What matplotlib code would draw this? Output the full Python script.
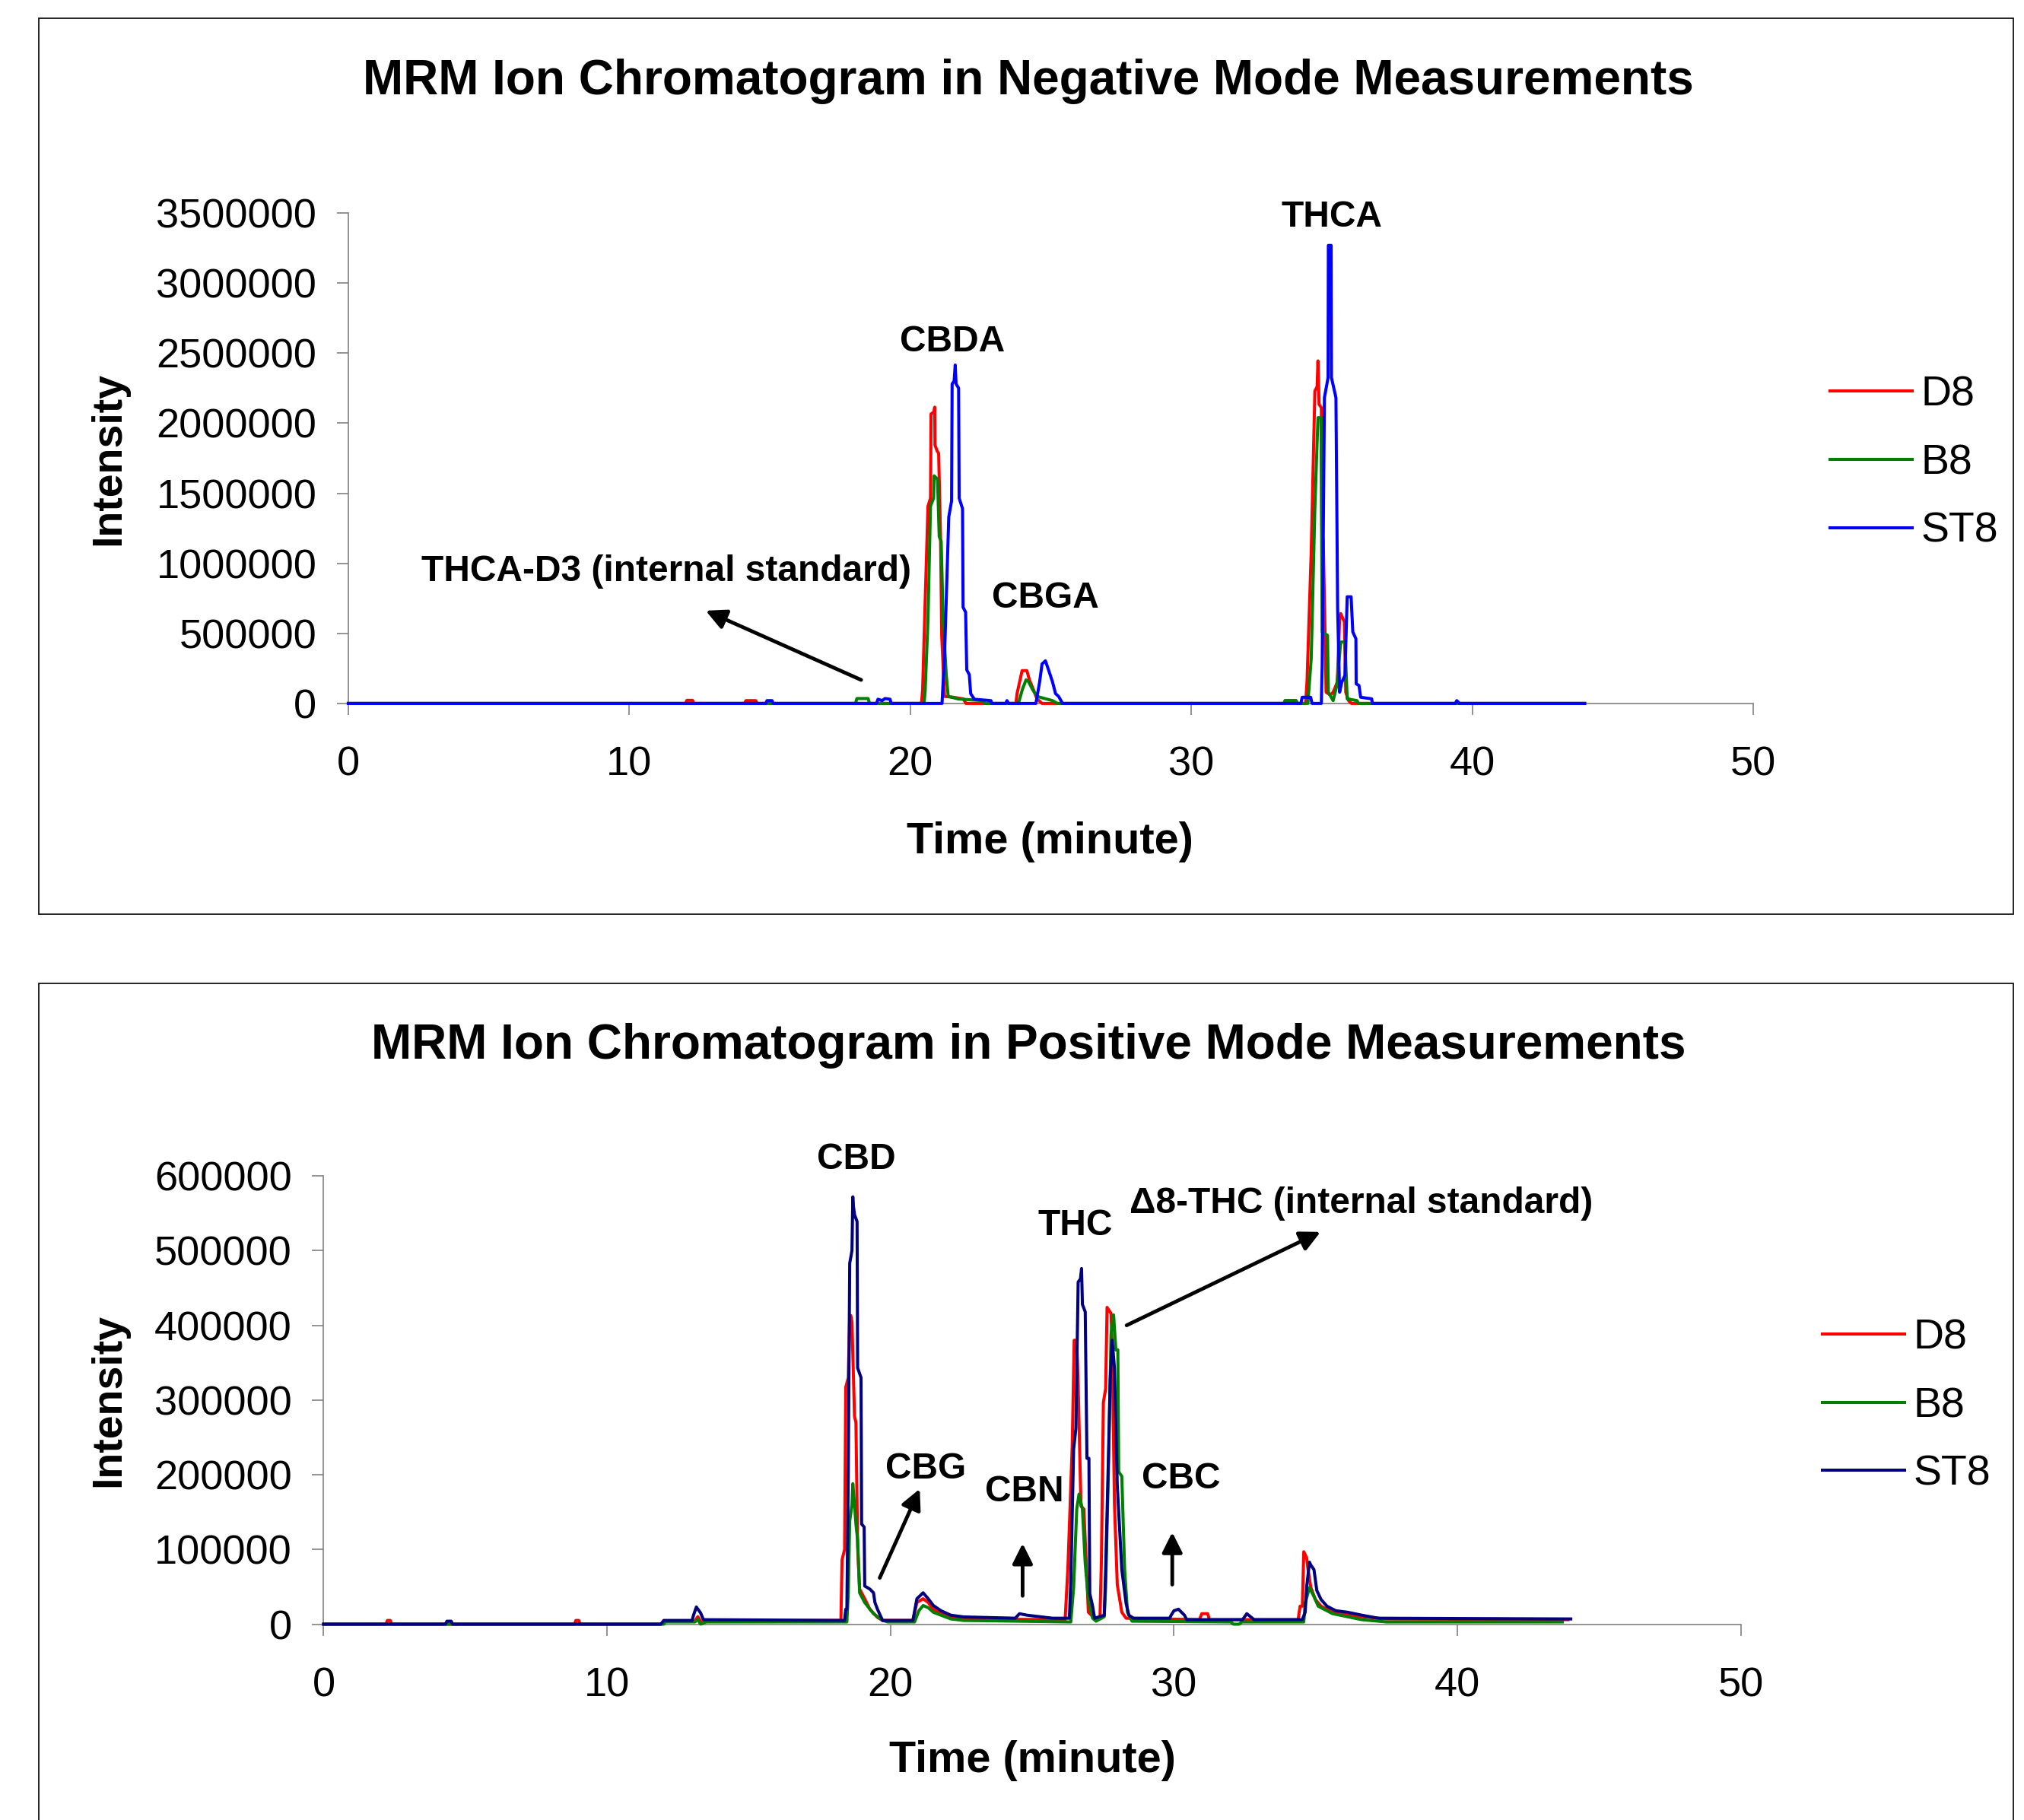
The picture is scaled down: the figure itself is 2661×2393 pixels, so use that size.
import matplotlib
matplotlib.use("Agg")
import matplotlib.pyplot as plt
from matplotlib.patches import Rectangle

plt.rcParams['font.family'] = ['Liberation Sans', 'DejaVu Sans']

# ---- negative mode traces, (time in minutes, intensity) ----
neg_d8 = [(0, 0), (12.00, 0), (12.05, 22e3), (12.25, 22e3), (12.30, 0),
          (14.10, 0), (14.15, 20e3), (14.50, 20e3), (14.55, 0),
          (20.40, 0), (20.44, 100e3), (20.49, 457e3), (20.63, 1407e3), (20.72, 1465e3),
          (20.74, 2066e3), (20.84, 2080e3), (20.87, 2114e3), (20.88, 1843e3), (20.96, 1800e3),
          (21.01, 1785e3), (21.08, 1156e3), (21.12, 478e3), (21.22, 50e3), (21.50, 45e3),
          (21.89, 32e3), (21.98, 0),
          (23.76, 0), (23.80, 70e3), (23.98, 234e3), (24.15, 234e3), (24.24, 168e3),
          (24.38, 100e3), (24.51, 32e3), (24.69, 0),
          (33.30, 0), (33.34, 20e3), (33.73, 20e3), (33.78, 0),
          (34.07, 0), (34.12, 152e3), (34.27, 1083e3), (34.40, 2230e3), (34.48, 2260e3),
          (34.51, 2444e3), (34.55, 2134e3), (34.63, 2110e3), (34.65, 1251e3), (34.70, 1155e3),
          (34.80, 80e3), (34.95, 60e3), (35.05, 80e3), (35.20, 152e3), (35.28, 600e3),
          (35.32, 641e3), (35.45, 582e3), (35.50, 80e3), (35.60, 20e3), (35.70, 0), (44.0, 0)]

neg_b8 = [(0, 0), (18.05, 0), (18.10, 35e3), (18.50, 35e3), (18.55, 0),
          (20.49, 0), (20.53, 89e3), (20.63, 593e3), (20.72, 1407e3), (20.83, 1465e3),
          (20.85, 1624e3), (20.97, 1600e3), (21.03, 1190e3), (21.10, 1156e3), (21.17, 593e3),
          (21.28, 206e3), (21.35, 50e3), (21.71, 32e3), (22.60, 20e3), (22.65, 0),
          (23.85, 0), (23.99, 100e3), (24.12, 168e3), (24.21, 155e3), (24.35, 100e3),
          (24.51, 50e3), (25.06, 20e3), (25.24, 0),
          (33.30, 0), (33.34, 20e3), (33.73, 20e3), (33.78, 0),
          (34.15, 0), (34.27, 319e3), (34.40, 1394e3), (34.51, 2039e3), (34.62, 2039e3),
          (34.66, 510e3), (34.85, 486e3), (34.88, 80e3), (35.05, 20e3), (35.18, 128e3),
          (35.32, 438e3), (35.47, 438e3), (35.55, 33e3), (35.90, 20e3), (35.95, 0), (44.0, 0)]

neg_st8 = [(0, 0), (14.86, 0), (14.90, 20e3), (15.08, 20e3), (15.12, 0),
           (18.80, 0), (18.85, 30e3), (19.00, 20e3), (19.10, 35e3), (19.28, 30e3), (19.32, 0),
           (21.13, 0), (21.22, 342e3), (21.37, 1330e3), (21.47, 1445e3), (21.49, 2280e3),
           (21.56, 2300e3), (21.60, 2415e3), (21.63, 2280e3), (21.72, 2250e3), (21.74, 1465e3),
           (21.86, 1390e3), (21.88, 686e3), (21.97, 651e3), (22.01, 239e3), (22.10, 206e3),
           (22.15, 70e3), (22.28, 30e3), (22.87, 20e3), (22.90, 0),
           (23.40, 0), (23.44, 20e3), (23.50, 0),
           (24.47, 0), (24.60, 148e3), (24.69, 282e3), (24.81, 304e3), (24.92, 240e3),
           (25.06, 155e3), (25.17, 70e3), (25.28, 50e3), (25.42, 0),
           (33.90, 0), (33.95, 44e3), (34.25, 44e3), (34.30, 0),
           (34.63, 0), (34.66, 271e3), (34.74, 2182e3), (34.87, 2325e3), (34.88, 3268e3),
           (34.98, 3268e3), (34.99, 2325e3), (35.15, 2182e3), (35.21, 677e3), (35.28, 80e3),
           (35.36, 152e3), (35.47, 200e3), (35.55, 761e3), (35.69, 761e3), (35.75, 510e3),
           (35.86, 462e3), (35.87, 140e3), (35.97, 128e3), (36.03, 44e3), (36.42, 33e3),
           (36.45, 0), (39.40, 0), (39.45, 20e3), (39.55, 0), (44.0, 0)]

# ---- positive mode traces ----
pos_d8 = [(0, 0), (2.20, 0), (2.25, 5e3), (2.35, 5e3), (2.40, 0),
          (8.85, 0), (8.90, 5e3), (9.00, 5e3), (9.05, 0),
          (11.90, 0), (12.00, 4e3), (13.10, 4e3), (13.20, 10e3), (13.30, 4e3),
          (18.25, 5e3), (18.29, 86e3), (18.38, 100e3), (18.42, 317e3), (18.51, 330e3),
          (18.56, 413e3), (18.60, 413e3), (18.64, 404e3), (18.73, 278e3), (18.78, 270e3),
          (18.84, 103e3), (18.91, 47e3), (19.09, 34e3), (19.27, 20e3), (19.54, 9e3),
          (19.72, 5e3), (20.79, 5e3), (20.93, 29e3), (21.15, 34e3), (21.33, 29e3),
          (21.51, 20e3), (21.78, 14e3), (22.13, 9.7e3), (22.58, 7e3),
          (26.16, 6e3), (26.26, 77e3), (26.41, 238e3), (26.48, 380e3), (26.57, 380e3),
          (26.62, 319e3), (26.72, 158e3), (26.82, 154e3), (26.93, 61e3), (26.98, 16e3),
          (27.20, 8e3), (27.39, 8e3), (27.44, 85e3), (27.51, 297e3), (27.59, 315e3),
          (27.64, 424e3), (27.78, 416e3), (27.82, 372e3), (27.90, 162e3), (28.00, 53e3),
          (28.16, 16e3), (28.31, 8e3), (30.90, 6e3), (30.98, 14e3), (31.19, 14e3),
          (31.25, 6e3), (34.38, 6e3), (34.45, 24e3), (34.53, 24e3), (34.58, 97e3),
          (34.68, 89e3), (34.73, 73e3), (34.83, 49e3), (34.99, 33e3), (35.19, 24e3),
          (35.60, 16e3), (36.12, 12e3), (36.63, 10e3), (37.50, 7e3), (43.90, 6e3)]

pos_b8 = [(0, 0), (12.00, 0), (12.05, 3e3), (13.10, 3e3), (13.20, 6e3), (13.30, 0),
          (13.50, 3e3), (18.46, 3e3), (18.51, 42e3), (18.56, 138e3), (18.64, 160e3),
          (18.67, 188e3), (18.73, 160e3), (18.78, 134e3), (18.84, 112e3), (18.91, 42e3),
          (19.09, 29e3), (19.40, 14e3), (19.72, 5e3), (19.90, 3e3), (20.85, 3e3),
          (21.00, 18e3), (21.15, 25e3), (21.33, 22e3), (21.51, 16e3), (21.78, 12e3),
          (22.13, 7e3), (22.58, 5e3), (26.36, 3e3), (26.46, 49e3), (26.57, 154e3),
          (26.65, 174e3), (26.77, 154e3), (26.87, 81e3), (26.98, 33e3), (27.13, 8e3),
          (27.25, 4e3), (27.54, 10e3), (27.59, 49e3), (27.70, 226e3), (27.78, 388e3),
          (27.87, 414e3), (27.95, 367e3), (28.02, 367e3), (28.05, 204e3), (28.16, 198e3),
          (28.26, 73e3), (28.36, 16e3), (28.52, 4e3), (32.00, 3e3), (32.10, 0),
          (32.30, 0), (32.40, 3e3), (34.58, 3e3), (34.63, 28e3), (34.78, 49e3),
          (34.94, 37e3), (35.09, 24e3), (35.60, 14e3), (36.12, 10e3), (36.63, 6e3),
          (37.50, 3e3), (43.70, 3e3)]

pos_st8 = [(0, 0), (4.30, 0), (4.35, 4e3), (4.50, 4e3), (4.55, 0),
           (11.90, 0), (12.00, 5e3), (13.00, 5e3), (13.05, 12e3), (13.15, 23e3),
           (13.30, 15e3), (13.40, 6e3), (18.38, 5e3), (18.42, 20e3), (18.46, 20e3),
           (18.51, 204e3), (18.56, 483e3), (18.64, 500e3), (18.67, 572e3), (18.69, 560e3),
           (18.73, 548e3), (18.82, 539e3), (18.84, 343e3), (18.96, 330e3), (18.98, 134e3),
           (19.07, 130e3), (19.09, 51e3), (19.27, 47e3), (19.40, 42e3), (19.45, 29e3),
           (19.54, 20e3), (19.72, 5e3), (20.79, 5e3), (20.93, 34e3), (21.15, 42e3),
           (21.33, 34e3), (21.51, 25e3), (21.78, 18e3), (22.13, 12e3), (22.58, 9.7e3),
           (24.40, 8e3), (24.55, 14e3), (24.82, 12e3), (25.71, 8e3), (26.31, 8e3),
           (26.36, 57e3), (26.46, 234e3), (26.54, 262e3), (26.62, 458e3), (26.70, 462e3),
           (26.74, 476e3), (26.77, 428e3), (26.87, 418e3), (26.93, 222e3), (27.00, 222e3),
           (27.03, 41e3), (27.13, 24e3), (27.20, 8e3), (27.54, 12e3), (27.59, 73e3),
           (27.70, 242e3), (27.75, 327e3), (27.82, 380e3), (27.90, 343e3), (28.00, 186e3),
           (28.16, 73e3), (28.31, 28e3), (28.41, 12e3), (28.57, 8e3), (29.85, 8e3),
           (29.90, 12e3), (30.00, 18e3), (30.16, 20e3), (30.37, 12e3), (30.45, 6e3),
           (32.42, 6e3), (32.57, 14e3), (32.83, 6e3), (34.53, 6e3), (34.63, 16e3),
           (34.68, 49e3), (34.78, 83e3), (34.83, 79e3), (34.94, 73e3), (35.04, 45e3),
           (35.19, 33e3), (35.40, 24e3), (35.71, 18e3), (36.12, 16e3), (36.63, 12e3),
           (37.20, 8e3), (44.00, 7e3)]

series_names = ["D8", "B8", "ST8"]
neg_colors = ["#ff0000", "#008000", "#0000ff"]
pos_colors = ["#ff0000", "#008000", "#000080"]

neg_yticks = [0, 500000, 1000000, 1500000, 2000000, 2500000, 3000000, 3500000]
pos_yticks = [0, 100000, 200000, 300000, 400000, 500000, 600000]
xticks = [0, 10, 20, 30, 40, 50]

# peak labels: (text, time, intensity)
neg_labels = [("THCA", 35.0, 3.47e6), ("CBDA", 21.5, 2.58e6), ("CBGA", 24.8, 0.75e6)]
pos_labels = [("CBD", 18.8, 622e3), ("THC", 26.52, 533e3), ("CBG", 21.24, 208e3),
              ("CBN", 24.73, 177e3), ("CBC", 30.26, 194e3)]
# arrows: (tail time, tail intensity, head time, head intensity)
neg_arrows = [(18.25, 168e3, 12.72, 662e3)]
pos_arrows = [(28.33, 400e3, 35.17, 525e3), (19.62, 62e3, 21.03, 181e3),
              (24.66, 38e3, 24.66, 108e3), (29.94, 53e3, 29.94, 123e3)]


def draw_panel(ax, traces, colors, yticks, labels, arrows, legend_xy):
    for tr, col, name in zip(traces, colors, series_names):
        t = [p[0] for p in tr]
        y = [p[1] for p in tr]
        ax.plot(t, y, color=col, lw=2.9, label=name, clip_on=False, zorder=3)
    ax.set_xlim(0, 50)
    ax.set_ylim(0, yticks[-1])
    ax.set_xticks(xticks)
    ax.set_yticks(yticks)
    ax.ticklabel_format(axis='y', style='plain', useOffset=False)
    for s in ['top', 'right']:
        ax.spines[s].set_visible(False)
    for s in ['left', 'bottom']:
        ax.spines[s].set_color('#808080')
        ax.spines[s].set_linewidth(1.2)
    ax.tick_params(axis='both', direction='out', length=11, width=1.2,
                   color='#808080', labelsize=39)
    ax.tick_params(axis='x', pad=29)
    ax.tick_params(axis='y', pad=19)
    for txt, x, y in labels:
        ax.text(x, y, txt, ha='center', va='center', fontsize=34.5, fontweight='bold')
    for x0, y0, x1, y1 in arrows:
        ax.annotate("", xy=(x1, y1), xytext=(x0, y0),
                    arrowprops=dict(arrowstyle='-|>', lw=3.5, color='black',
                                    mutation_scale=40, shrinkA=0, shrinkB=0))
    ax.legend(loc='center left', bbox_to_anchor=legend_xy, frameon=False,
              fontsize=40, handlelength=1.95, handletextpad=0.2,
              labelspacing=0.68, borderpad=0, borderaxespad=0)


def main():
    fig = plt.figure(figsize=(26.61, 23.93), dpi=100)

    # panel frames
    fig.add_artist(Rectangle((0.0192, 0.4977), 0.9755, 0.4923, transform=fig.transFigure,
                             fill=False, ec='black', lw=1.2))
    fig.add_artist(Rectangle((0.0192, -0.01), 0.9755, 0.4697, transform=fig.transFigure,
                             fill=False, ec='black', lw=1.2))

    ax1 = fig.add_axes([0.1721, 0.6135, 0.6941, 0.2695])
    draw_panel(ax1, [neg_d8, neg_b8, neg_st8], neg_colors, neg_yticks,
               neg_labels, neg_arrows, (1.0547, 0.4895))
    ax1.text(11.31, 0.939e6, "THCA-D3 (internal standard)", ha='center', va='center',
             fontsize=34.5, fontweight='bold')

    ax2 = fig.add_axes([0.1599, 0.1076, 0.7002, 0.2463])
    draw_panel(ax2, [pos_d8, pos_b8, pos_st8], pos_colors, pos_yticks,
               pos_labels, pos_arrows, (1.0575, 0.486))
    ax2.text(28.42, 563e3, "\u03948-THC (internal standard)", ha='left', va='center',
             fontsize=34.5, fontweight='bold')

    fig.text(0.508, 0.9553, "MRM Ion Chromatogram in Negative Mode Measurements",
             ha='center', va='center', fontsize=46, fontweight='bold')
    fig.text(0.508, 0.4254, "MRM Ion Chromatogram in Positive Mode Measurements",
             ha='center', va='center', fontsize=46, fontweight='bold')
    fig.text(0.5186, 0.5375, "Time (minute)", ha='center', va='center',
             fontsize=41.5, fontweight='bold')
    fig.text(0.510, 0.0327, "Time (minute)", ha='center', va='center',
             fontsize=41.5, fontweight='bold')
    fig.text(0.054, 0.748, "Intensity", ha='center', va='center', rotation=90,
             fontsize=40, fontweight='bold')
    fig.text(0.054, 0.2307, "Intensity", ha='center', va='center', rotation=90,
             fontsize=40, fontweight='bold')

    fig.savefig("out.png", dpi=100)


if __name__ == "__main__":
    main()
